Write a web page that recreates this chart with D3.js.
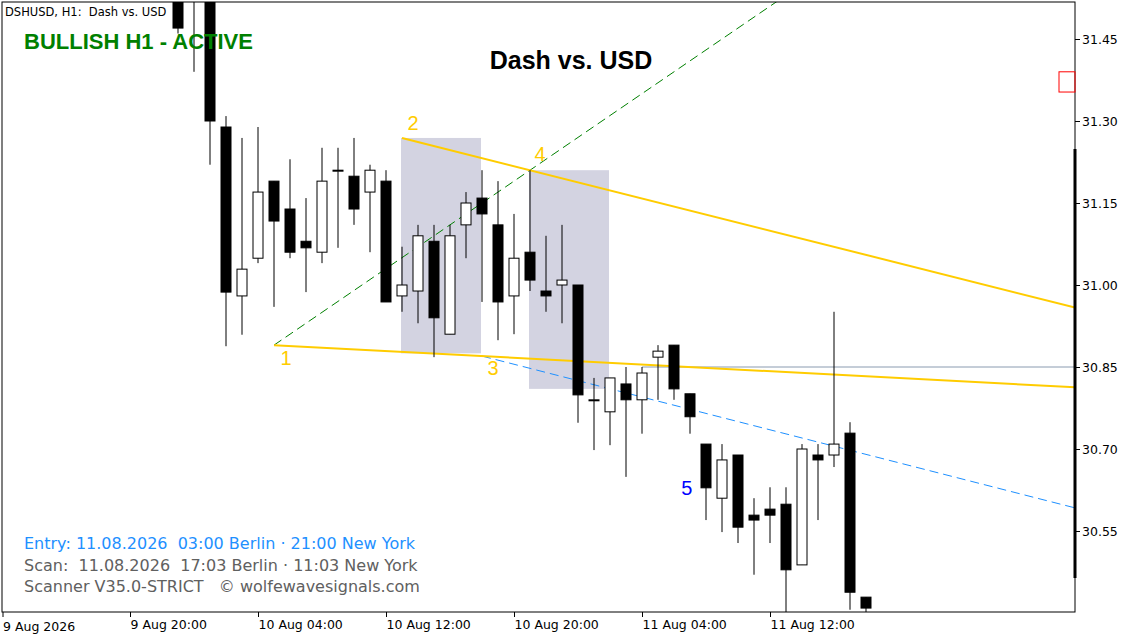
<!DOCTYPE html>
<html>
<head>
<meta charset="utf-8">
<script src="https://cdn.jsdelivr.net/npm/d3@7"></script>
<style>
  body { margin: 0; background: #fff; }
  text { font-family: "Liberation Sans", Arial, sans-serif; white-space: pre; }
  .tah { font-family: "DejaVu Sans", sans-serif; }
</style>
</head>
<body>
<div class="d3"></div>
<script>
// hours since 9 Aug 20:00, [open, high, low, close]
const hours = d3.range(3, 47);
const candles = [
  [31.55, 31.56, 31.46, 31.47], [31.53, 31.56, 31.39, 31.52], [31.52, 31.53, 31.22, 31.30],
  [31.289, 31.309, 30.888, 30.987], [30.98, 31.269, 30.909, 31.029], [31.049, 31.289, 31.04, 31.17],
  [31.19, 31.19, 30.96, 31.117], [31.139, 31.23, 31.049, 31.06], [31.08, 31.159, 30.987, 31.068],
  [31.06, 31.251, 31.04, 31.19], [31.21, 31.251, 31.068, 31.21], [31.199, 31.269, 31.11, 31.139],
  [31.17, 31.22, 31.06, 31.21], [31.19, 31.21, 30.969, 30.969], [30.98, 31.07, 30.951, 31.0],
  [30.989, 31.11, 30.93, 31.09], [31.08, 31.11, 30.868, 30.94], [30.91, 31.11, 30.91, 31.09],
  [31.11, 31.17, 31.049, 31.15], [31.159, 31.21, 30.969, 31.13], [31.11, 31.19, 30.899, 30.969],
  [30.98, 31.13, 30.91, 31.049], [31.06, 31.21, 30.989, 31.009], [30.989, 31.09, 30.951, 30.98],
  [31.0, 31.11, 30.93, 31.009], [31.0, 31.0, 30.748, 30.799], [30.79, 30.83, 30.698, 30.79],
  [30.768, 30.83, 30.707, 30.83], [30.819, 30.85, 30.649, 30.79], [30.79, 30.85, 30.728, 30.839],
  [30.868, 30.89, 30.79, 30.879], [30.89, 30.89, 30.79, 30.81], [30.801, 30.801, 30.728, 30.759],
  [30.709, 30.709, 30.57, 30.629], [30.61, 30.709, 30.548, 30.68], [30.689, 30.689, 30.528, 30.557],
  [30.579, 30.61, 30.47, 30.57], [30.59, 30.63, 30.528, 30.579], [30.599, 30.63, 30.40, 30.479],
  [30.488, 30.709, 30.488, 30.70], [30.689, 30.709, 30.57, 30.68], [30.689, 30.951, 30.667, 30.709],
  [30.729, 30.749, 30.406, 30.438], [30.429, 30.429, 30.40, 30.409]
];
const priceTicks = [30.55, 30.70, 30.85, 31.00, 31.15, 31.30, 31.45];
const timeTicks = [0, 8, 16, 24, 32, 40];
const timeLabels = ["9 Aug 20:00", "10 Aug 04:00", "10 Aug 12:00", "10 Aug 20:00", "11 Aug 04:00", "11 Aug 12:00"];
// wolfe points [hour, price]
const waves = [[9, 30.890], [17, 31.269], [22, 30.870], [25, 31.21], [59.1, 30.592]];
const zones = [[17, 22, 31.269, 30.875], [25, 30, 31.21, 30.81]];
const infoLines = [
  "Entry: 11.08.2026  03:00 Berlin · 21:00 New York",
  "Scan:  11.08.2026  17:03 Berlin · 11:03 New York",
  "Scanner V35.0-STRICT   © wolfewavesignals.com"
];

const W = 1137, H = 639, L = 2, R = 1075, T = 2, B = 612;
const x = d3.scaleLinear().domain([0, 1]).range([130, 146]);
const y = d3.scaleLinear().domain([30.55, 31.45]).range([531, 39]);

const svg = d3.select(".d3").append("svg").attr("width", W).attr("height", H);
const plot = svg.append("g");
svg.append("clipPath").attr("id", "c").append("rect")
  .attr("x", L).attr("y", T).attr("width", R - L).attr("height", B - T);
plot.attr("clip-path", "url(#c)");

// zones
plot.selectAll(".zone").data(zones).join("rect")
  .attr("x", d => x(d[0]) - 1).attr("width", d => x(d[1]) - x(d[0]))
  .attr("y", d => y(d[2])).attr("height", d => y(d[3]) - y(d[2]))
  .attr("fill", "#d3d3e1");

// helper for extended line
function extLine(p, q, x2) {
  const s = (q[1] - p[1]) / (q[0] - p[0]);
  return [x(p[0]), y(p[1]), x(x2), y(p[1] + s * (x2 - p[0]))];
}
const xEnd = x.invert(R);
function drawLine(c, color, w, dash) {
  plot.append("line").attr("x1", c[0]).attr("y1", c[1]).attr("x2", c[2]).attr("y2", c[3])
    .attr("stroke", color).attr("stroke-width", w).attr("stroke-dasharray", dash || null);
}
drawLine([x(32), y(30.85), R, y(30.85)], "#8a9bb0", 1);
drawLine(extLine(waves[0], waves[3], xEnd), "#008000", 1, "9,5");
drawLine(extLine(waves[2], waves[4], xEnd), "#1e90ff", 1, "9,5");
drawLine(extLine(waves[0], waves[2], xEnd), "#ffcc00", 2);
drawLine(extLine(waves[1], waves[3], xEnd), "#ffcc00", 2);

// candles
const cd = candles.map((c, i) => ({ h: hours[i], o: c[0], hi: c[1], lo: c[2], c: c[3] }));
plot.selectAll(".wick").data(cd).join("line")
  .attr("x1", d => x(d.h)).attr("x2", d => x(d.h))
  .attr("y1", d => y(d.hi)).attr("y2", d => y(d.lo))
  .attr("stroke", "#000").attr("stroke-width", 1);
plot.selectAll(".body").data(cd).join("rect")
  .attr("x", d => x(d.h) - 5).attr("width", 10)
  .attr("y", d => y(Math.max(d.o, d.c)))
  .attr("height", d => Math.max(1, Math.abs(y(d.o) - y(d.c))))
  .attr("fill", d => d.c >= d.o ? "#fff" : "#000")
  .attr("stroke", "#000").attr("stroke-width", 1);

// wave labels
const labelPos = [[12, 20], [11, -8], [11, 19], [10, -9], [0, 0]];
["1", "2", "3", "4"].forEach((t, i) => {
  svg.append("text").attr("x", x(waves[i][0]) + labelPos[i][0]).attr("y", y(waves[i][1]) + labelPos[i][1])
    .attr("text-anchor", "middle").attr("font-size", 20).attr("fill", "#ffcc00").text(t);
});
svg.append("text").attr("x", x(34.8)).attr("y", y(30.615)).attr("text-anchor", "middle")
  .attr("font-size", 20).attr("fill", "#0000ff").text("5");

// frame & axes
svg.append("rect").attr("x", L).attr("y", T).attr("width", R - L).attr("height", B - T)
  .attr("fill", "none").attr("stroke", "#000");
svg.append("line").attr("x1", R).attr("x2", R).attr("y1", 149).attr("y2", 578)
  .attr("stroke", "#000").attr("stroke-width", 3);
const ya = svg.append("g").attr("transform", `translate(${R},0)`)
  .call(d3.axisRight(y).tickValues(priceTicks).tickFormat(d3.format(".2f")).tickSize(5).tickPadding(2));
ya.select(".domain").remove();
ya.selectAll("text").attr("class", "tah").attr("font-size", 12.5).attr("fill", "#000");
const xa = svg.append("g").attr("transform", `translate(0,${B})`)
  .call(d3.axisBottom(x).tickValues(timeTicks).tickFormat((d, i) => timeLabels[i]).tickSize(5).tickPadding(3));
xa.select(".domain").remove();
xa.selectAll("text").attr("class", "tah").attr("font-size", 12.5)
  .attr("text-anchor", "start").attr("fill", "#000");
svg.append("line").attr("x1", 3).attr("x2", 3).attr("y1", B).attr("y2", B + 5).attr("stroke", "#000");
svg.append("text").attr("class", "tah").attr("x", 3).attr("y", 631).attr("font-size", 12.5).text("9 Aug 2026");

// red marker
svg.append("rect").attr("x", R - 16).attr("y", y(31.39)).attr("width", 16).attr("height", y(31.353) - y(31.39))
  .attr("fill", "none").attr("stroke", "#ff0000");

// texts
svg.append("text").attr("class", "tah").attr("x", 5).attr("y", 16).attr("font-size", 11.5).text("DSHUSD, H1:  Dash vs. USD");
svg.append("text").attr("x", 24).attr("y", 49).attr("font-size", 22).attr("font-weight", "bold")
  .attr("fill", "#008000").text("BULLISH H1 - ACTIVE");
svg.append("text").attr("x", 571).attr("y", 69).attr("font-size", 25).attr("font-weight", "bold")
  .attr("text-anchor", "middle").text("Dash vs. USD");
svg.selectAll(".info").data(infoLines).join("text")
  .attr("class", "tah")
  .attr("x", 24).attr("y", (d, i) => 549 + i * 21.5).attr("font-size", 16)
  .attr("fill", (d, i) => i === 0 ? "#1e90ff" : "#606060").text(d => d);
</script>
</body>
</html>
